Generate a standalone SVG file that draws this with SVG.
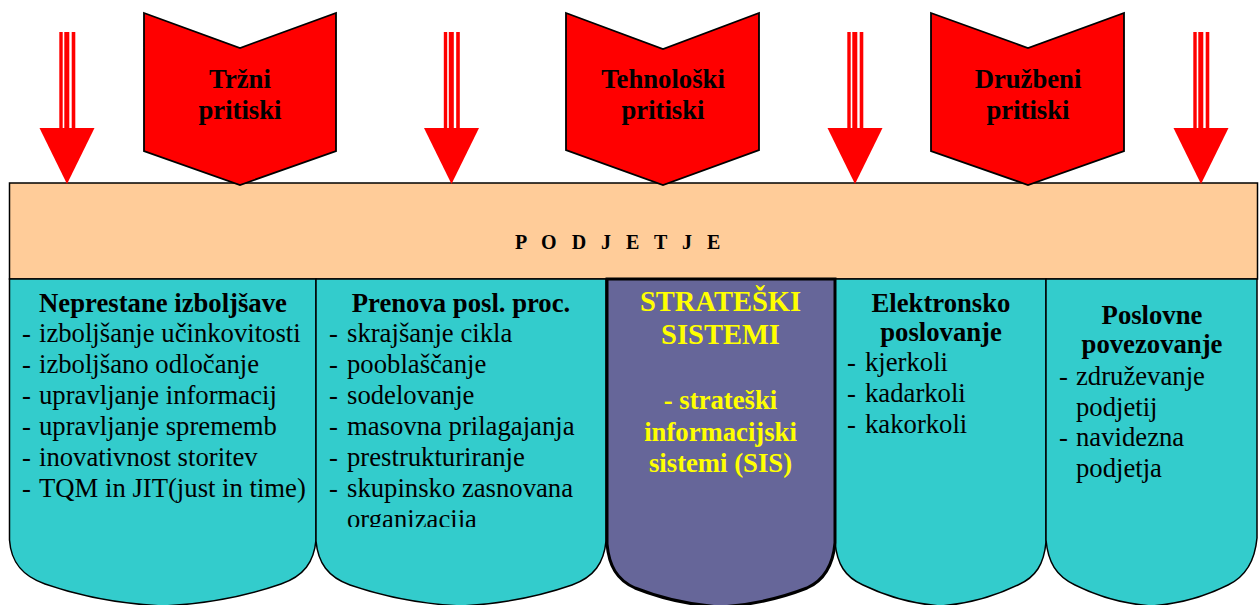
<svg xmlns="http://www.w3.org/2000/svg" width="1260" height="605" viewBox="0 0 1260 605">
<style>
text{font-family:"Liberation Serif","Times New Roman",serif;fill:#000}
.b{font-weight:bold}
.h{font-size:26.7px;font-weight:bold;text-anchor:middle}
.t{font-size:26.7px}
.y{fill:#FFFF00;font-weight:bold;text-anchor:middle}
.col{fill:#33CCCC;stroke:#000;stroke-width:1.5}
.pent{fill:#FF0000;stroke:#000;stroke-width:1.8;stroke-linejoin:miter}
.arr{fill:#FF0000}
</style>
<defs>
<clipPath id="c2"><rect x="316" y="279" width="290" height="248"/></clipPath>
<g id="arrowShape">
<rect x="-7.7" y="32" width="3.4" height="97" class="arr"/>
<rect x="-2.7" y="32" width="5" height="97" class="arr"/>
<rect x="4.7" y="32" width="3.6" height="97" class="arr"/>
<polygon points="-27.5,128 27.5,128 0,184" class="arr"/>
</g>
</defs>

<g id="podjetje">
<rect x="9.5" y="183" width="1248" height="96" fill="#FFCC99" stroke="#000" stroke-width="1.5"/>
<text x="515" y="249" class="b" font-size="20" letter-spacing="5">P O D J E T J E</text>
</g>

<g id="col1">
<path class="col" d="M9.5,279 V540 C11,562 22,576 45,584 Q100,603 163,606 Q226,603 281,584 C304,576 314,562 316,540 V279 Z"/>
<text x="163" y="311.5" class="h">Neprestane izboljšave</text>
<text class="t"><tspan x="22" y="341.5">-</tspan><tspan x="39">izboljšanje učinkovitosti</tspan></text>
<text class="t"><tspan x="22" y="372.5">-</tspan><tspan x="39">izboljšano odločanje</tspan></text>
<text class="t"><tspan x="22" y="403.5">-</tspan><tspan x="39">upravljanje informacij</tspan></text>
<text class="t"><tspan x="22" y="434.5">-</tspan><tspan x="39">upravljanje sprememb</tspan></text>
<text class="t"><tspan x="22" y="465.5">-</tspan><tspan x="39">inovativnost storitev</tspan></text>
<text class="t"><tspan x="22" y="496.5">-</tspan><tspan x="39">TQM in JIT(just in time)</tspan></text>
</g>

<g id="col2">
<path class="col" d="M316,279 V541 C318,563 328,577 350,585 Q402,603 461,606 Q520,603 572,585 C594,577 604,563 606,541 V279 Z"/>
<text x="461" y="311.5" class="h">Prenova posl. proc.</text>
<g clip-path="url(#c2)">
<text class="t"><tspan x="329" y="341.5">-</tspan><tspan x="347">skrajšanje cikla</tspan></text>
<text class="t"><tspan x="329" y="372.5">-</tspan><tspan x="347">pooblaščanje</tspan></text>
<text class="t"><tspan x="329" y="403.5">-</tspan><tspan x="347">sodelovanje</tspan></text>
<text class="t"><tspan x="329" y="434.5">-</tspan><tspan x="347">masovna prilagajanja</tspan></text>
<text class="t"><tspan x="329" y="465.5">-</tspan><tspan x="347">prestrukturiranje</tspan></text>
<text class="t"><tspan x="329" y="496.5">-</tspan><tspan x="347">skupinsko zasnovana</tspan></text>
<text class="t" x="347" y="527.5">organizacija</text>
</g>
</g>

<g id="col4">
<path class="col" d="M835,279 V542 C837,564 845,577 863,585 Q900,603 940.5,606 Q981,603 1018,585 C1036,577 1044,564 1046,542 V279 Z"/>
<text x="941" y="311.5" class="h">Elektronsko</text>
<text x="941" y="341" class="h">poslovanje</text>
<text class="t"><tspan x="847" y="370.5">-</tspan><tspan x="865">kjerkoli</tspan></text>
<text class="t"><tspan x="847" y="401.5">-</tspan><tspan x="865">kadarkoli</tspan></text>
<text class="t"><tspan x="847" y="432.5">-</tspan><tspan x="865">kakorkoli</tspan></text>
</g>

<g id="col5">
<path class="col" d="M1046,279 V540 C1048,562 1056,576 1075,585 Q1111,603 1151.5,606 Q1192,603 1228,585 C1247,576 1255,560 1257,538 V279 Z"/>
<text x="1152" y="324" class="h">Poslovne</text>
<text x="1152" y="353" class="h">povezovanje</text>
<text class="t"><tspan x="1059" y="385">-</tspan><tspan x="1076">združevanje</tspan></text>
<text class="t" x="1076" y="415.5">podjetij</text>
<text class="t"><tspan x="1059" y="446">-</tspan><tspan x="1076">navidezna</tspan></text>
<text class="t" x="1076" y="476.5">podjetja</text>
</g>

<g id="col3">
<path d="M607,279 V544 C609,566 617,580 635,588 Q675,604 720.5,607 Q766,604 807,588 C825,580 833,565 835,543 V279 Z" fill="#666699" stroke="#000" stroke-width="3"/>
<text x="720.5" y="311" class="y" font-size="28.5">STRATEŠKI</text>
<text x="720.5" y="344" class="y" font-size="28.5">SISTEMI</text>
<text x="720.5" y="409" class="y" font-size="26.7">- strateški</text>
<text x="720.5" y="440.5" class="y" font-size="26.7">informacijski</text>
<text x="720.5" y="472" class="y" font-size="26.7">sistemi (SIS)</text>
</g>

<g id="trzni">
<polygon class="pent" points="144,13 240,48 336,13 336,151 240,185 144,151"/>
<text x="240" y="88" class="h">Tržni</text>
<text x="240" y="118.5" class="h">pritiski</text>
</g>
<g id="tehnoloski">
<polygon class="pent" points="566,13 663,49 759,13 759,150 663,185 566,150"/>
<text x="663" y="88" class="h">Tehnološki</text>
<text x="663" y="118.5" class="h">pritiski</text>
</g>
<g id="druzbeni">
<polygon class="pent" points="931,13 1028,48 1124,13 1124,151 1028,185 931,151"/>
<text x="1028" y="88" class="h">Družbeni</text>
<text x="1028" y="118.5" class="h">pritiski</text>
</g>

<g id="connectors">
<use href="#arrowShape" transform="translate(67,0)"/>
<use href="#arrowShape" transform="translate(451.5,0)"/>
<use href="#arrowShape" transform="translate(855,0)"/>
<use href="#arrowShape" transform="translate(1201,0)"/>
</g>
</svg>
